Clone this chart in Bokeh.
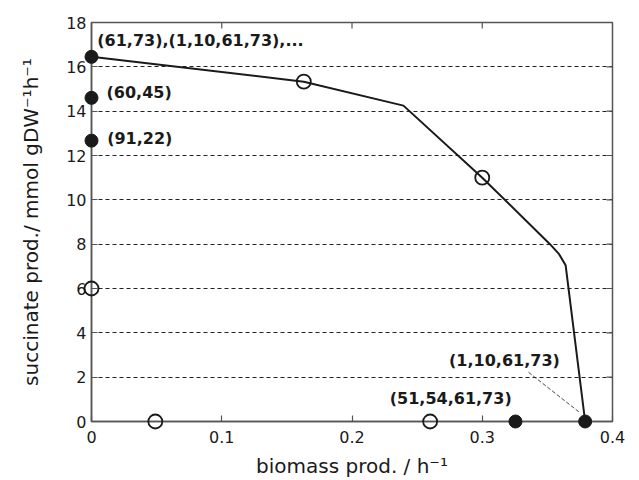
import math
from bokeh.plotting import figure
from bokeh.models import FixedTicker, CustomJSTickFormatter, Range1d, ColumnDataSource
from bokeh.core.properties import value
from bokeh.embed import file_html
from bokeh.resources import INLINE

# ---- data ----
curve_x = [0.0, 0.163, 0.2395, 0.300, 0.352, 0.359, 0.364, 0.379]
curve_y = [16.45, 15.33, 14.25, 11.0, 8.0, 7.55, 7.05, 0.0]

open_x = [0.0, 0.049, 0.163, 0.260, 0.300]
open_y = [6.0, 0.0, 15.33, 0.0, 11.0]

filled_x = [0.0, 0.0, 0.0, 0.3255, 0.379]
filled_y = [16.45, 14.6, 12.67, 0.0, 0.0]

annot_text = ["(61,73),(1,10,61,73),...", "(60,45)", "(91,22)", "(1,10,61,73)", "(51,54,61,73)"]

x_ticks = [0.0, 0.1, 0.2, 0.3, 0.4]
y_ticks = [0, 2, 4, 6, 8, 10, 12, 14, 16, 18]

x_title = "biomass prod. / h\u207b\u00b9"
y_title = "succinate prod./ mmol gDW\u207b\u00b9h\u207b\u00b9"

# ---- label anchor positions (data units) ----
annot_x = [0.0044, 0.0115, 0.012, 0.2745, 0.229]
annot_y = [17.19, 14.85, 12.75, 2.75, 1.06]

FONT = "DejaVu Sans"
DARK = "#1a1a1a"
FRAME = "#555555"

xr = Range1d(0, 0.4)
yr = Range1d(0, 18)
p = figure(width=639, height=480, x_range=xr, y_range=yr,
           output_backend="svg", toolbar_location=None,
           min_border_left=91, min_border_right=27,
           min_border_top=22, min_border_bottom=59,
           background_fill_color="white", border_fill_color="white")

p.outline_line_color = FRAME
p.outline_line_width = 1.5

p.xaxis.ticker = FixedTicker(ticks=x_ticks)
p.xaxis.formatter = CustomJSTickFormatter(code="return String(Math.round(tick*10)/10)")
p.yaxis.ticker = FixedTicker(ticks=y_ticks)
for ax in (p.xaxis[0], p.yaxis[0]):
    ax.axis_line_color = FRAME
    ax.axis_line_width = 1.5
    ax.major_tick_line_color = FRAME
    ax.major_tick_line_width = 1.2
    ax.major_tick_in = 6
    ax.major_tick_out = 0
    ax.minor_tick_line_color = None
    ax.major_label_text_font = FONT
    ax.major_label_text_color = DARK
    ax.major_label_text_font_size = "16px"
    ax.axis_label_text_font = FONT
    ax.axis_label_text_font_style = "normal"
    ax.axis_label_text_font_size = "20px"
    ax.axis_label_text_color = DARK
p.xaxis.major_label_standoff = 9
p.yaxis.major_label_standoff = 5
p.xaxis.axis_label = x_title
p.yaxis.axis_label = y_title
p.xaxis.axis_label_standoff = 8
p.yaxis.axis_label_standoff = 20

p.xgrid.visible = False
p.ygrid.ticker = FixedTicker(ticks=y_ticks)
p.ygrid.grid_line_color = "#222222"
p.ygrid.grid_line_dash = "4 3"
p.ygrid.grid_line_width = 1

# inward ticks on the top and right edges of the box (half of each dash is clipped away)
top_x = x_ticks[1:-1]
p.scatter(top_x, [yr.end] * len(top_x), marker="dash", size=12, angle=math.pi / 2,
          line_color=FRAME, line_width=1.2)
right_y = y_ticks[1:-1]
p.scatter([xr.end] * len(right_y), right_y, marker="dash", size=12,
          line_color=FRAME, line_width=1.2)

p.line(curve_x, curve_y, line_color=DARK, line_width=2)

# leader line from the "(1,10,61,73)" label to the optimum point
lead_x = [annot_x[3] + 0.061, filled_x[4] - 0.0045]
lead_y = [annot_y[3] - 0.53, filled_y[4] + 0.42]
p.line(lead_x, lead_y, line_color="#333333", line_width=0.9, line_dash="4 2")

r1 = p.scatter(open_x, open_y, marker="circle", size=14, fill_color=None,
               line_color=DARK, line_width=1.8)
r2 = p.scatter(filled_x, filled_y, marker="circle", size=13, fill_color=DARK,
               line_color=DARK, line_width=1)
r1.level = "overlay"
r2.level = "overlay"

src = ColumnDataSource(dict(x=annot_x, y=annot_y, t=annot_text))
p.text("x", "y", text="t", source=src, text_font=value(FONT), text_font_style="bold",
       text_font_size="16px", text_color=DARK, text_align="left", text_baseline="middle")

open("out.html", "w").write(file_html(p, INLINE))
